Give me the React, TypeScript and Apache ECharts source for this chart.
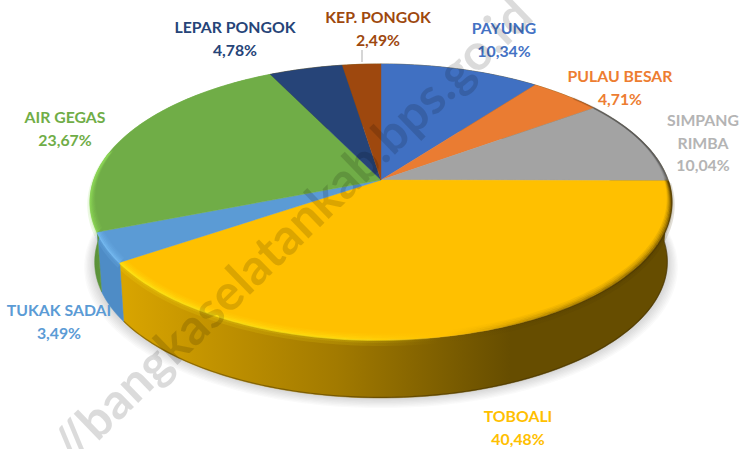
import React, { useEffect, useRef } from "react";
import * as echarts from "echarts";

const names = ["PAYUNG", "PULAU BESAR", "SIMPANG\nRIMBA", "TOBOALI", "TUKAK SADAI", "AIR GEGAS", "LEPAR PONGOK", "KEP. PONGOK"];
const shares = [10.34, 4.71, 10.04, 40.48, 3.49, 23.67, 4.78, 2.49];
const shareLabels = ["10,34%", "4,71%", "10,04%", "40,48%", "3,49%", "23,67%", "4,78%", "2,49%"];

const topColors = ["#4070C2", "#EA7C32", "#A3A3A3", "#FFC000", "#5B9BD5", "#70AD47", "#264478", "#9E480E"];
const labelColors = ["#4472C4", "#ED7D31", "#B4B4B4", "#FFC000", "#5B9BD5", "#70AD47", "#264478", "#9E480E"];
const labelAnchors = [[504, 39], [620, 87], [703, 142], [518, 427], [59, 321], [65, 128], [235, 38], [378, 28]];
const lightRgb = ["", "", "", "255,232,20", "120,190,245", "140,215,85", "", ""];
const darkRgb = ["20,40,90", "110,50,10", "60,60,60", "70,50,0", "", "", "", ""];
const darkStrength = [0.3, 0.3, 0.55, 1, 0, 0, 0, 0];

const CX = 381, CY = 180, A = 287, B = 134.5, K = 0.159;
const BOTTOM_SCALE = 0.985, BOTTOM_DY = 60.4;
const FONT = "Lato";
const BEVEL_ALPHAS = [0.8, 0.55, 0.35, 0.2, 0.1];
const SHADOW_LAYERS = [1, 2, 3, 4, 5, 6, 7, 8];

function pt(deg: number, scale = 1, dy = 0, rad = 1): number[] {
  const t = (deg * Math.PI) / 180;
  const X = Math.sin(t) * rad, Z = Math.cos(t) * rad;
  const w = 1 + K * Z;
  return [CX + (A * scale * X) / w, CY + dy - (B * scale * Z) / w];
}
function arc(a0: number, a1: number, scale = 1, dy = 0, rad = 1): number[][] {
  const out: number[][] = [];
  const n = Math.max(2, Math.ceil(Math.abs(a1 - a0)));
  for (let i = 0; i <= n; i++) out.push(pt(a0 + ((a1 - a0) * i) / n, scale, dy, rad));
  return out;
}
function sliceAngles(i: number): number[] {
  const total = shares.reduce((s, v) => s + v, 0);
  let before = 0;
  for (let j = 0; j < i; j++) before += shares[j];
  return [(before / total) * 360, ((before + shares[i]) / total) * 360];
}
function linearX(x: number, x2: number, colorStops: { offset: number; color: string }[]) {
  return { type: "linear", x, y: 0, x2, y2: 0, global: true, colorStops };
}
const wallFill = (i: number): any => {
  if (i === 3)
    return linearX(125, 510, [
      { offset: 0, color: "#D8A400" },
      { offset: 0.55, color: "#A27A00" },
      { offset: 1, color: "#664D00" },
    ]);
  if (i === 4) return "#4E8CC6";
  if (i === 5) return linearX(94, 125, [{ offset: 0, color: "#5A9139" }, { offset: 1, color: "#6EA648" }]);
  return "#664D00";
};
function bevelStroke(i: number, alpha: number): any {
  const l = lightRgb[i] || "255,255,255";
  const d = darkRgb[i] || "0,0,0";
  const la = lightRgb[i] ? alpha : 0;
  const da = alpha * darkStrength[i];
  return linearX(90, 672, [
    { offset: 0, color: `rgba(${l},${la})` },
    { offset: 0.45, color: `rgba(${l},${la * 0.8})` },
    { offset: 0.6, color: `rgba(${l},0)` },
    { offset: 0.61, color: `rgba(${d},0)` },
    { offset: 0.78, color: `rgba(${d},${da * 0.55})` },
    { offset: 1, color: `rgba(${d},${da})` },
  ]);
}

const renderWall = (params: any, api: any) => {
  api.value(0);
  const i = params.dataIndex;
  const [a0, a1] = sliceAngles(i);
  const children: any[] = [];
  if (i === 0) {
    SHADOW_LAYERS.forEach((n) => {
      children.push({
        type: "polygon",
        shape: { points: arc(0, 360, BOTTOM_SCALE + (9 - n) * 0.0045, BOTTOM_DY + (9 - n) * 0.55) },
        style: { fill: "rgba(70,70,85,0.028)" },
      });
    });
  }
  children.push({
    type: "polygon",
    shape: { points: [...arc(a0, a1), ...arc(a1, a0, BOTTOM_SCALE, BOTTOM_DY)] },
    style: { fill: wallFill(i), stroke: wallFill(i), lineWidth: 0.5 },
  });
  if (i === 3) {
    children.push({
      type: "polyline",
      shape: { points: arc(a0, a1, BOTTOM_SCALE, BOTTOM_DY - 0.5) },
      style: { fill: "none", stroke: "rgba(50,35,0,0.4)", lineWidth: 1.2 },
    });
  }
  if (lightRgb[i]) {
    [3, 6].forEach((w) => {
      children.push({
        type: "polyline",
        shape: { points: arc(a0, a1, 1, w / 2) },
        style: { fill: "none", stroke: bevelStroke(i, 0.16), lineWidth: w },
      });
    });
  }
  return { type: "group", children };
};

const renderTop = (params: any, api: any) => {
  api.value(0);
  const i = params.dataIndex;
  const [a0, a1] = sliceAngles(i);
  const children: any[] = [
    {
      type: "polygon",
      shape: { points: [[CX, CY], ...arc(a0, a1)] },
      style: { fill: topColors[i], stroke: topColors[i], lineWidth: 0.4 },
    },
  ];
  const b0 = Math.max(a0, 48), b1 = Math.min(a1, 282);
  if (b1 > b0) {
    BEVEL_ALPHAS.forEach((alpha, k) => {
      children.push({
        type: "polyline",
        shape: { points: arc(b0, b1, 1, 0.3 - k * 0.8, 1 - k * 0.0035) },
        style: { fill: "none", stroke: bevelStroke(i, alpha), lineWidth: 1.6 },
      });
    });
  }
  return { type: "group", children };
};

export default function App() {
  const ref = useRef<HTMLDivElement>(null);
  useEffect(() => {
    document.body.style.margin = "0";
    const chart = echarts.init(ref.current!, undefined, { renderer: "svg" });
    const labels = names.map((n, i) => ({
      type: "text",
      x: labelAnchors[i][0],
      y: labelAnchors[i][1],
      z: 50,
      style: {
        text: `${n}\n${shareLabels[i]}`,
        fill: labelColors[i],
        font: `bold 15.8px ${FONT}`,
        lineHeight: 22.5,
        textAlign: "center",
        textVerticalAlign: "middle",
      },
    }));
    chart.setOption({
      animation: false,
      backgroundColor: "#ffffff",
      series: [
        { type: "custom", coordinateSystem: "none", renderItem: renderWall, data: shares, z: 2, silent: true },
        { type: "custom", coordinateSystem: "none", renderItem: renderTop, data: shares, z: 3, silent: true },
      ],
      graphic: [
        {
          type: "line",
          z: 40,
          shape: { x1: 362, y1: 50, x2: 362, y2: 62 },
          style: { stroke: "#C8C8C8", lineWidth: 1.5 },
        },
        ...labels,
        {
          type: "text",
          x: 59,
          y: 453,
          z: 60,
          rotation: (44 * Math.PI) / 180,
          style: {
            text: "//bangkaselatankab.bps.go.id",
            fill: "rgba(0,0,0,0.14)",
            font: "bold 50px Lato",
            textAlign: "left",
            textVerticalAlign: "middle",
          },
        },
      ],
    });
    return () => chart.dispose();
  }, []);
  return <div ref={ref} style={{ width: 743, height: 449 }} />;
}
